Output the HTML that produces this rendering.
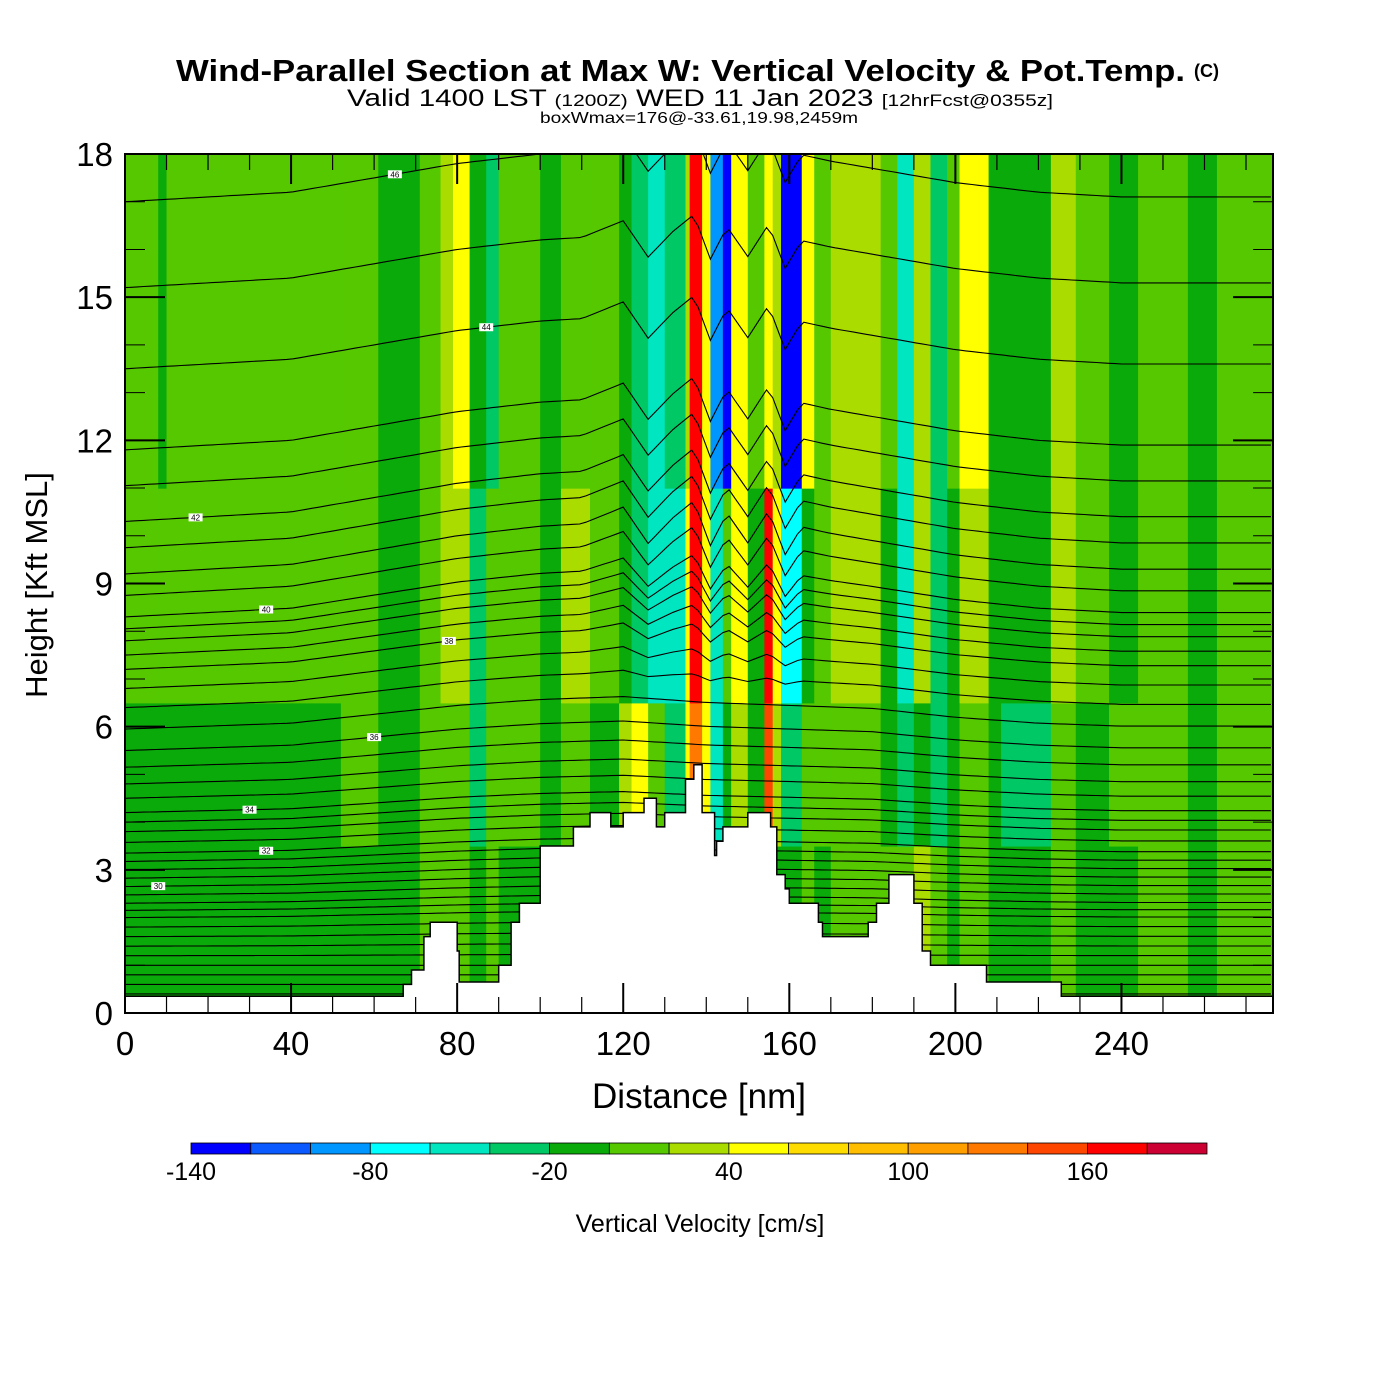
<!DOCTYPE html>
<html><head><meta charset="utf-8"><style>
html,body{margin:0;padding:0;background:#fff;}
svg{display:block;font-family:"Liberation Sans",sans-serif;}
</style></head><body>
<svg id="chart" width="1400" height="1400" viewBox="0 0 1400 1400">
<rect width="1400" height="1400" fill="#fff"/>
<text x="176" y="81" font-size="31" font-weight="bold" textLength="1009" lengthAdjust="spacingAndGlyphs">Wind-Parallel Section at Max W: Vertical Velocity &amp; Pot.Temp.</text>
<text x="1194" y="77" font-size="18" font-weight="bold">(C)</text>
<text x="347" y="106" font-size="24" textLength="706" lengthAdjust="spacingAndGlyphs">Valid 1400 LST <tspan font-size="17">(1200Z)</tspan> WED 11 Jan 2023 <tspan font-size="17">[12hrFcst@0355z]</tspan></text>
<text x="540" y="123" font-size="16" textLength="318" lengthAdjust="spacingAndGlyphs">boxWmax=176@-33.61,19.98,2459m</text>
<defs><clipPath id="plotclip"><rect x="125" y="154" width="1148" height="859"/></clipPath></defs>
<g id="field" clip-path="url(#plotclip)"></g>
<g id="contours" clip-path="url(#plotclip)"></g>
<g id="terrain" clip-path="url(#plotclip)"></g>
<g id="axes"></g>
<g id="colorbar"></g>
<text x="699" y="1108" font-size="35" text-anchor="middle">Distance [nm]</text>
<text transform="translate(47,585) rotate(-90)" font-size="31" text-anchor="middle">Height [Kft MSL]</text>
<text x="700" y="1232" font-size="25" text-anchor="middle">Vertical Velocity [cm/s]</text>
</svg>
<script>
// ---- data ----
const bandEdges = [0,8,10,52,61,71,76,79,83,87,90,100,105,112,119,122,126,130,135,136,139,141,144,146,150,154,156,158,163,166,170,182,186,190,194,198,201,208,211,223,229,237,244,256,263,276.5];
const wLow  = [-10,-10,-10,-10,-10,10,10,10,-10,10,-10,10,-10,10,-10,10,-10,10,10,10,30,10,10,10,10,-10,-10,-10,10,-10,10,10,10,30,10,-10,10,-10,-10,10,-10,-10,10,-10,10];
const wLM   = [-10,-10,-10,10,-10,10,10,10,-30,10,10,-10,10,-10,30,50,10,-30,50,130,50,-50,-10,30,-10,150,30,-30,10,10,10,-10,-30,-10,-30,-10,10,-10,-30,10,-10,10,10,-10,10];
const wMid  = [10,10,10,10,-10,10,30,30,-30,10,10,-10,30,10,-10,-30,-50,-50,50,170,50,-50,10,50,-10,170,50,-70,-10,10,30,-10,-50,30,-30,-10,30,-10,-10,30,10,-10,10,-10,10];
const wTop  = [10,-10,10,10,-10,10,30,50,-10,-30,10,-10,10,10,-10,-30,-50,-30,30,170,50,-90,-130,50,10,50,30,-130,50,10,30,10,-50,30,-30,10,50,-10,-10,30,10,-10,10,-10,10];
const rowBreaks = [3.5, 6.5, 11];
const cbLevels = [-140,-120,-100,-80,-60,-40,-20,0,20,40,60,80,100,120,140,160,180,200];
const cbLabels = [-140,-80,-20,40,100,160];
const cbColors = ["#0000ff","#0a5aff","#0096ff","#00ffff","#00e6c0","#00c864","#0aaa0a","#55c800","#aadc00","#ffff00","#ffdc00","#ffbe00","#ffa000","#ff7800","#ff4600","#ff0000","#cc0033"];
const terrainDist = [0,50,67,69,72,73.5,78,80,80.5,87,90,93,95,100,108,112,117,120,125,128,130,135,137,139,142,142.5,144,148,150,155,155.5,157,159,160,161,167,168,170,178,179,181,184,187,190,192,194,195,195.5,207,207.5,225,225.5,276.5];
const terrainKft = [0.35,0.35,0.6,0.9,1.6,1.9,1.9,1.3,0.65,0.65,1.0,1.9,2.3,3.5,3.9,4.2,3.9,4.2,4.5,3.9,4.2,4.9,5.2,4.2,3.3,3.6,3.9,3.9,4.2,4.2,3.9,2.9,2.6,2.3,2.3,1.9,1.6,1.6,1.6,1.9,2.3,2.9,2.9,2.3,1.3,1.0,1.0,1.0,1.0,0.65,0.65,0.35,0.35];
const thetaLevels = [24,25,26,27,28,29,30,31,32,33,34,35,36,37,38,39,40,41,42,43,44,45,46,47];
const thetaBaseKft = [0.4,0.8,1.2,1.6,2.0,2.3,2.65,3.0,3.35,3.8,4.2,4.8,5.5,6.4,7.2,7.8,8.3,9.2,10.3,11.8,13.5,15.2,17.0,18.5];
const dispDist = [0,40,60,80,100,120,140,160,180,200,220,240,276.5];
const dispKft = [0,0.2,0.5,0.8,1.0,1.1,0.9,0.8,0.7,0.4,0.2,0.1,0.1];
const zigDist = [110,120,126,132,137,141,145,150,155,159,163,170,180];
const zigKft = [0,0.3,-0.4,0.2,0.6,-0.3,0.4,-0.2,0.5,-0.4,0.2,0.1,0];
const labelLevels = [30,32,34,36,38,40,42,44,46];
const labelDist = [8,34,30,60,78,34,17,87,65];
// ---- scales ----
const X0=125,X1=1273,Y0=1013,Y1=154,DMAX=276.5,HMAX=18;
function xs(d){return X0+(X1-X0)*d/DMAX;}
function ys(h){return Y0-(Y0-Y1)*h/HMAX;}
function colorFor(v){let i=Math.floor((v+140)/20);i=Math.max(0,Math.min(cbColors.length-1,i));return cbColors[i];}
function interp(xa,ya,x){if(x<=xa[0])return ya[0];for(let i=1;i<xa.length;i++){if(x<=xa[i]){const t=(x-xa[i-1])/(xa[i]-xa[i-1]);return ya[i-1]+t*(ya[i]-ya[i-1]);}}return ya[ya.length-1];}
const NS="http://www.w3.org/2000/svg";
function mk(tag,attrs,parent){const e=document.createElementNS(NS,tag);for(const k in attrs)e.setAttribute(k,attrs[k]);parent.appendChild(e);return e;}
// ---- field ----
const field=document.getElementById('field');
const rows=[[0,rowBreaks[0],wLow],[rowBreaks[0],rowBreaks[1],wLM],[rowBreaks[1],rowBreaks[2],wMid],[rowBreaks[2],HMAX,wTop]];
for(const [h0,h1,arr] of rows){
  for(let i=0;i<arr.length;i++){
    const x0=xs(bandEdges[i]),x1=xs(bandEdges[i+1]);
    const r=mk('rect',{x:x0,y:ys(h1),width:x1-x0+0.6,height:ys(h0)-ys(h1)+0.6,fill:colorFor(arr[i])},field);
    
    
  }
}
// ---- contours ----
const cg=document.getElementById('contours');
function thetaH(baseIdx,frac,d){
  const b=thetaBaseKft[baseIdx]+(frac?(thetaBaseKft[Math.min(baseIdx+1,thetaBaseKft.length-1)]-thetaBaseKft[baseIdx])*0.5:0);
  const wgt=Math.min(1,Math.max(0,(b-1)/8));
  const zw=Math.min(1,Math.max(0,(b-6)/3));
  return b+interp(dispDist,dispKft,d)*wgt+interp(zigDist,zigKft,d)*zw;
}
for(let i=0;i<thetaLevels.length;i++){
  for(const f of [0,1]){
    if(f && thetaLevels[i]>=43) continue;
    let pts=[];
    for(let d=0;d<=DMAX;d+=1.5){pts.push(xs(d).toFixed(1)+','+ys(thetaH(i,f,d)).toFixed(1));}
    const p=mk('polyline',{points:pts.join(' '),fill:'none',stroke:'#000','stroke-width':1.1},cg);
    
    
  }
}
for(let j=0;j<labelLevels.length;j++){
  const i=thetaLevels.indexOf(labelLevels[j]);const d=labelDist[j];
  const x=xs(d),y=ys(thetaH(i,0,d));
  const g=mk('g',{},cg);
  
  
  mk('rect',{x:x-7,y:y-4,width:14,height:8,fill:'#fff'},g);
  const t=mk('text',{x:x,y:y+3,'font-size':8,'text-anchor':'middle'},g);t.textContent=labelLevels[j];
}
// ---- terrain ----
const tg=document.getElementById('terrain');
let tp=[];
for(let i=0;i<terrainDist.length;i++){
  if(i>0)tp.push(xs(terrainDist[i]).toFixed(1)+','+ys(terrainKft[i-1]).toFixed(1));
  tp.push(xs(terrainDist[i]).toFixed(1)+','+ys(terrainKft[i]).toFixed(1));
}
const tpoly=mk('polygon',{points:xs(0)+','+(Y0+2)+' '+tp.join(' ')+' '+xs(DMAX)+','+(Y0+2),fill:'#fff',stroke:'#000','stroke-width':1.5},tg);


// ---- axes ----
const ag=document.getElementById('axes');
const frame=mk('rect',{x:X0,y:Y1,width:X1-X0,height:Y0-Y1,fill:'none',stroke:'#000','stroke-width':2},ag);


for(let d=0;d<=DMAX;d+=10){
  const major=d%40===0,len=major?30:16,x=xs(d);
  mk('line',{x1:x,y1:Y0,x2:x,y2:Y0-len,stroke:'#000','stroke-width':major?2:1.2},ag);
  mk('line',{x1:x,y1:Y1,x2:x,y2:Y1+len,stroke:'#000','stroke-width':major?2:1.2},ag);
  if(major){const t=mk('text',{x:x,y:1055,'font-size':33,'text-anchor':'middle'},ag);t.textContent=d;
    
    }
}
for(let h=0;h<=HMAX;h+=1){
  const y=ys(h),major=h%3===0,len=major?40:20;
  mk('line',{x1:X0,y1:y,x2:X0+len,y2:y,stroke:'#000','stroke-width':major?2:1},ag);
  mk('line',{x1:X1,y1:y,x2:X1-len,y2:y,stroke:'#000','stroke-width':major?2:1},ag);
  if(major){const t=mk('text',{x:113,y:y+12,'font-size':33,'text-anchor':'end'},ag);t.textContent=h;
  
  }
}
// ---- colorbar ----
const cb=document.getElementById('colorbar');
const CB0=191,CB1=1207,CBW=(CB1-CB0)/cbColors.length;
function cbx(v){return CB0+(v-cbLevels[0])/20*CBW;}
for(let i=0;i<cbColors.length;i++){
  const r=mk('rect',{x:cbx(cbLevels[i]),y:1143,width:CBW,height:11,fill:cbColors[i],stroke:'#000','stroke-width':0.8},cb);
  
  
}
for(const v of cbLabels){
  const t=mk('text',{x:cbx(v),y:1180,'font-size':25,'text-anchor':'middle'},cb);t.textContent=v;
  
  
}
</script>
</body></html>
